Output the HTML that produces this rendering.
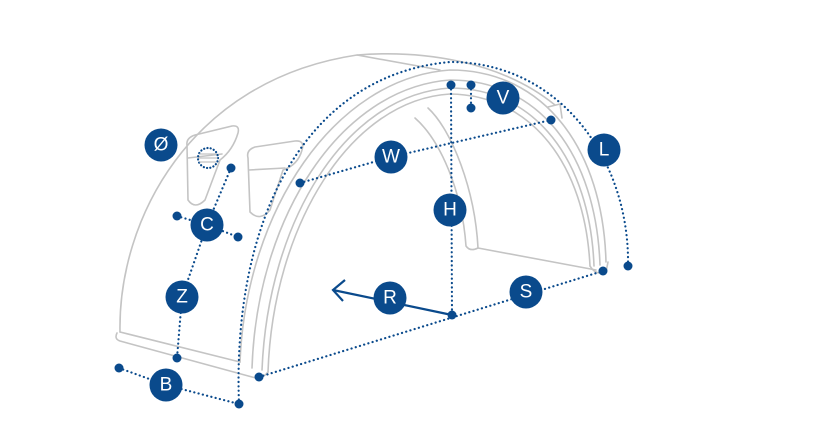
<!DOCTYPE html>
<html><head><meta charset="utf-8"><style>
html,body{margin:0;padding:0;background:#fff;width:828px;height:445px;overflow:hidden}
svg{display:block}
text{font-family:"Liberation Sans",sans-serif;font-size:19px;fill:#fff;text-anchor:middle;dominant-baseline:central}
</style></head><body>
<svg width="828" height="445" viewBox="0 0 828 445">
<g fill="none" stroke="#c4c4c4" stroke-width="1.6" stroke-linejoin="round" stroke-linecap="round">
<path d="M120,332 C118,220 190,80 357,55 L440,70"/>
<path d="M357,55 C420,50 500,60 555,105"/>
<path d="M120,332 L240,362"/>
<path d="M117,333 Q114,339 120,341 L252,377 Q262,380 268,372"/>
<path d="M240,362 C246,210 335,78 450,70 C545,70 603,150 606,262"/>
<path d="M252,368 C257,218 340,88 450,80 C540,80 596,155 600,265"/>
<path d="M262,370 C268,222 345,95 450,88 C535,88 590,160 594,266"/>
<path d="M268,372 C273,226 350,100 450,94 C532,95 585,165 590,266"/>
<path d="M590,266 Q596,276 606,272 L608,262"/>
<path d="M415,118 C440,140 462,190 466,246 Q470,252 478,248"/>
<path d="M428,108 C452,130 475,190 478,248"/>
<path d="M478,248 L596,270"/>
<path d="M548,107 L560,104 L562,118"/>
<path d="M187,145 Q186,138 195,135 L232,126 Q240,125 238,133 Q233,150 220,160 L205,200 Q195,210 188,200 Z"/>
<path d="M188,158 L222,154"/>
<path d="M248,158 Q246,150 255,147 L295,141 Q305,140 302,150 Q298,165 283,170 L270,210 Q260,222 250,212 Z"/>
<path d="M249,170 L285,168"/>
</g>
<g fill="none" stroke="#0a4a8c" stroke-width="2.2" stroke-dasharray="0.1 4.3" stroke-linecap="round">
<circle cx="208" cy="158" r="10" stroke-dasharray="0.1 3.2"/>
<path d="M200,154 H216 M199,158 H217 M200,162 H216" stroke="#c4c4c4" stroke-dasharray="none" stroke-width="1.3"/>
<path d="M231,168 L207,225 L182,297 L177,358"/>
<path d="M177,216 L207,225 L238,237"/>
<path d="M119,368 L166,385 L239,404"/>
<path d="M239,404 C232,220 305,75 450,62 C560,62 630,160 628,266"/>
<path d="M259,377 L603,271"/>
<path d="M300,183 L391,157 L551,120"/>
<path d="M451,85 L452,315"/>
<path d="M471,85 L471,108"/>
</g>
<g stroke="#0a4a8c" stroke-width="2.2" fill="none">
<path d="M452,315 L333,290"/>
<path d="M345,280 L333,290 L343,301"/>
</g>
<g fill="#0a4a8c">
<circle cx="231" cy="168" r="4.5"/><circle cx="177" cy="216" r="4.5"/><circle cx="238" cy="237" r="4.5"/>
<circle cx="177" cy="358" r="4.5"/><circle cx="119" cy="368" r="4.5"/><circle cx="239" cy="404" r="4.5"/>
<circle cx="259" cy="377" r="4.5"/><circle cx="300" cy="183" r="4.5"/><circle cx="451" cy="85" r="4.5"/>
<circle cx="471" cy="85" r="4.5"/><circle cx="471" cy="108" r="4.5"/><circle cx="551" cy="120" r="4.5"/>
<circle cx="452" cy="315" r="4.5"/><circle cx="603" cy="271" r="4.5"/><circle cx="628" cy="266" r="4.5"/>
<circle cx="161" cy="145" r="16.5"/><circle cx="207" cy="225" r="16.5"/><circle cx="182" cy="297" r="16.5"/>
<circle cx="166" cy="385" r="16.5"/><circle cx="391" cy="157" r="16.5"/><circle cx="450" cy="210" r="16.5"/>
<circle cx="390" cy="298" r="16.5"/><circle cx="526" cy="292" r="16.5"/><circle cx="503" cy="98" r="16.5"/>
<circle cx="604" cy="150" r="16.5"/>
</g>
<text x="161" y="145">Ø</text><text x="207" y="225">C</text><text x="182" y="297">Z</text>
<text x="166" y="385">B</text><text x="391" y="157">W</text><text x="450" y="210">H</text>
<text x="390" y="298">R</text><text x="526" y="292">S</text><text x="503" y="98">V</text>
<text x="604" y="150">L</text>
</svg>
</body></html>
